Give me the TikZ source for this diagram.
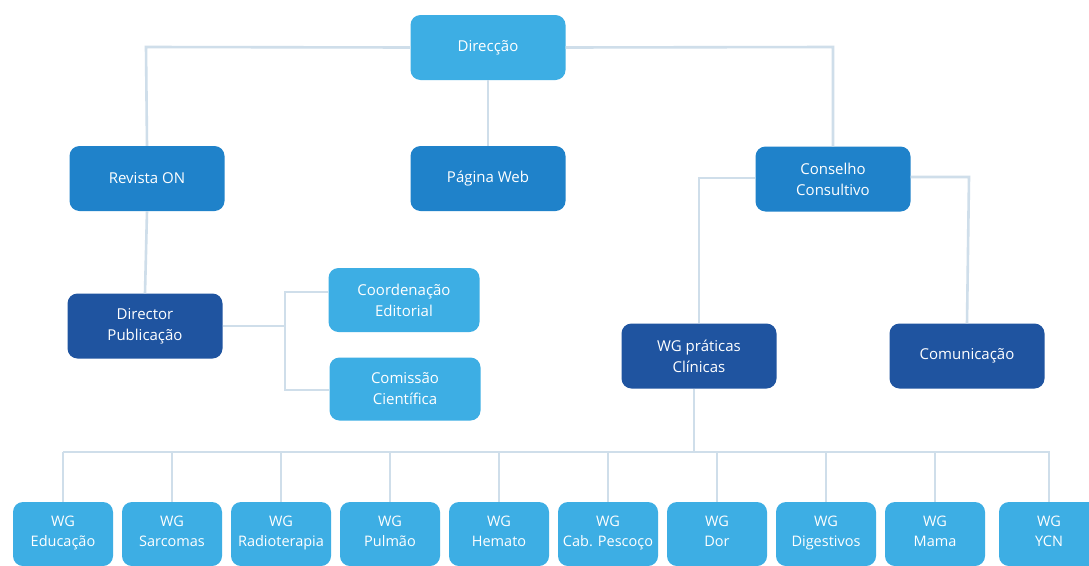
\documentclass[tikz,border=0pt]{standalone}
\usepackage{fontspec}
\setmainfont{Open Sans}
\definecolor{lightb}{HTML}{3DAEE4}
\definecolor{midb}{HTML}{1F82CA}
\definecolor{darkb}{HTML}{1F54A0}
\definecolor{linec}{HTML}{CFDEEA}
\begin{document}
\begin{tikzpicture}[x=1pt,y=-1pt,
  box/.style={rounded corners=10pt, minimum width=155pt, minimum height=65pt, text=white, align=center, inner sep=0pt, font=\fontsize{15}{21}\selectfont},
  lightbox/.style={box, fill=lightb},
  midbox/.style={box, fill=midb},
  darkbox/.style={box, fill=darkb},
  wgbox/.style={lightbox, minimum width=100pt, minimum height=64pt, font=\fontsize{14.5}{20}\selectfont, execute at end node=\strut},
  link/.style={draw=linec, line width=2.6pt}]
\useasboundingbox[fill=white] (0,0) rectangle (1089,565);
\clip (0,0) rectangle (1089,565);

\coordinate (jl) at (146,47);
\coordinate (jr) at (833,47);
\coordinate (cl) at (699,178);
\coordinate (cr) at (969,177);
\coordinate (bt) at (285,292);
\coordinate (bm) at (285,326);
\coordinate (bb) at (285,390);
\coordinate (busL) at (63,452);
\coordinate (busR) at (1050,452);
\coordinate (busM) at (694,452);

% nodes
\node[lightbox] (dir) at (488,47.5) {Direcção};
\node[midbox] (rev) at (147,178.5) {Revista ON};
\node[midbox] (web) at (488,178.5) {Página Web};
\node[midbox] (cons) at (833,179) {Conselho\\Consultivo};
\node[darkbox] (dpub) at (145,326) {Director\\Publicação};
\node[lightbox, minimum width=151pt, minimum height=64pt] (coord) at (404,300) {Coordenação\\Editorial};
\node[lightbox, minimum width=151pt, minimum height=63pt] (comi) at (405,389) {Comissão\\Científica};
\node[darkbox] (wgp) at (699,356) {WG práticas\\Clínicas};
\node[darkbox] (comu) at (967,356) {Comunicação};

\node[wgbox] (w1) at (63,534) {WG\\Educação};
\node[wgbox] (w2) at (172,534) {WG\\Sarcomas};
\node[wgbox] (w3) at (281,534) {WG\\Radioterapia};
\node[wgbox] (w4) at (390,534) {WG\\Pulmão};
\node[wgbox] (w5) at (499,534) {WG\\Hemato};
\node[wgbox] (w6) at (608,534) {WG\\Cab. Pescoço};
\node[wgbox] (w7) at (717,534) {WG\\Dor};
\node[wgbox] (w8) at (826,534) {WG\\Digestivos};
\node[wgbox] (w9) at (935,534) {WG\\Mama};
\node[wgbox] (w10) at (1049,534) {WG\\YCN};

% connectors
\draw[link] (dir.west) -- (jl) -- (rev.north);
\draw[link] (dir.east) -- (jr) -- (cons.north);
\draw[link] (dir.south) -- (web.north);
\draw[link] (rev.south) -- (dpub.north);
\draw[link] (dpub.east) -- (bm);
\draw[link] (coord.west |- bt) -- (bt) -- (bb) -- (comi.west |- bb);
\draw[link] (cons.west |- cl) -- (cl) -- (wgp.north);
\draw[link] (cons.east |- cr) -- (cr) -- (comu.north);
\draw[link] (busM |- wgp.south) -- (busM);
\draw[link] (busL) -- (busR);
\foreach \i in {1,...,10} {
  \draw[link] (w\i.north |- busL) -- (w\i.north);
}
\end{tikzpicture}
\end{document}
